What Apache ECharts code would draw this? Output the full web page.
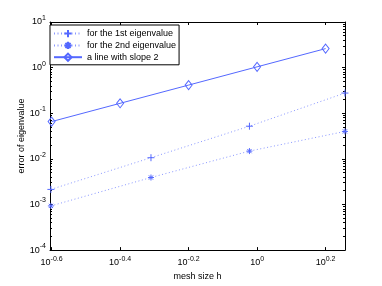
<!DOCTYPE html>
<html><head><meta charset="utf-8">
<script src="https://cdn.jsdelivr.net/npm/echarts@6/dist/echarts.min.js"></script>
<style>html,body{margin:0;padding:0;background:#fff}#c{width:382px;height:286px}</style>
</head><body><div id="c"></div>
<script>
// ---- data ----
const meshSize1 = [0.25, 0.49, 0.95, 1.805];
const err1 = [0.00214, 0.0106, 0.052, 0.277];
const meshSize2 = [0.25, 0.49, 0.95, 1.805];
const err2 = [0.00093, 0.0039, 0.0148, 0.0399];
const meshSizeRef = [0.2512, 0.3981, 0.6310, 1.0, 1.585];
const errRef = [0.0656, 0.165, 0.414, 1.04, 2.61];
const seriesNames = ['for the 1st eigenvalue', 'for the 2nd eigenvalue', 'a line with slope 2'];
const xTickExponents = ['-0.6', '-0.4', '-0.2', '0', '0.2'];
const yTickExponents = ['-4', '-3', '-2', '-1', '0', '1'];
const xName = 'mesh size h';
const yName = 'error of eigenvalue';
const xMin = 0.2485, xMax = 1.806, yMin = 1e-4, yMax = 10;

const FONT = 'Liberation Sans, Arial, Helvetica, sans-serif';
const BLUE = '#5468ff';
const DOT = '#8a98ff';

function pairs(xs, ys) { return xs.map((x, i) => [x, ys[i]]); }
function findLabel(list, e, tol) {
  for (const s of list) if (Math.abs(parseFloat(s) - e) < tol) return s;
  return null;
}
const rich = {
  b: { fontSize: 9, fontFamily: FONT, color: '#000', lineHeight: 15, verticalAlign: 'middle' },
  s: { fontSize: 7, fontFamily: FONT, color: '#000', lineHeight: 6, verticalAlign: 'top' }
};
const axisLine = { show: true, onZero: false, lineStyle: { color: '#000', width: 1 } };
const majorTick = { show: true, inside: true, length: 3, lineStyle: { color: '#000' } };
const minorTick = { show: true, splitNumber: 9, length: 2, lineStyle: { color: '#000' } };

const chart = echarts.init(document.getElementById('c'), null, { renderer: 'canvas' });
chart.setOption({
  animation: false,
  backgroundColor: '#fff',
  grid: { left: 50, right: 37, top: 22, bottom: 32, containLabel: false },
  legend: {
    orient: 'vertical', left: 50, top: 25,
    itemWidth: 28, itemHeight: 9, itemGap: 2.6,
    padding: [4, 3, 3, 3],
    borderColor: '#000', borderWidth: 1, backgroundColor: '#fff',
    textStyle: { fontSize: 9, fontFamily: FONT, color: '#000' },
    data: seriesNames
  },
  xAxis: [
    {
      type: 'log', logBase: Math.pow(10, 0.2), min: xMin, max: xMax,
      position: 'bottom',
      name: xName, nameLocation: 'middle', nameGap: 16,
      nameTextStyle: { fontSize: 9, fontFamily: FONT, color: '#000' },
      axisLine: axisLine,
      axisTick: majorTick,
      axisLabel: {
        margin: 5,
        formatter: function (v) {
          const s = findLabel(xTickExponents, Math.log10(v), 0.002);
          return s === null ? '' : '{b|10}{s|' + s + '}';
        },
        rich: rich
      },
      splitLine: { show: false }, minorTick: { show: false }
    },
    {
      type: 'log', logBase: Math.pow(10, 0.2), min: xMin, max: xMax,
      position: 'top',
      axisLine: axisLine,
      axisTick: majorTick,
      axisLabel: { show: false }, splitLine: { show: false }, minorTick: { show: false }
    }
  ],
  yAxis: [
    {
      type: 'log', logBase: 10, min: yMin, max: yMax, position: 'left',
      name: yName, nameLocation: 'middle', nameGap: 24, nameMoveOverlap: false,
      nameTextStyle: { fontSize: 9, fontFamily: FONT, color: '#000' },
      axisLine: axisLine,
      axisTick: majorTick,
      minorTick: minorTick,
      axisLabel: {
        margin: 4,
        formatter: function (v) {
          const s = findLabel(yTickExponents, Math.log10(v), 0.01);
          return s === null ? '' : '{b|10}{s|' + s + '}';
        },
        rich: rich
      },
      splitLine: { show: false }, minorSplitLine: { show: false }
    },
    {
      type: 'log', logBase: 10, min: yMin, max: yMax, position: 'right',
      axisLine: axisLine,
      axisTick: majorTick,
      minorTick: minorTick,
      axisLabel: { show: false }, splitLine: { show: false }, minorSplitLine: { show: false }
    }
  ],
  series: [
    {
      name: seriesNames[0], type: 'line', xAxisIndex: 0, yAxisIndex: 0,
      data: pairs(meshSize1, err1), clip: false,
      symbol: 'path://M5 0L5 10M0 5L10 5', symbolSize: 7, symbolKeepAspect: true,
      itemStyle: { color: 'rgba(255,255,255,0)', borderColor: BLUE, borderWidth: 1 },
      lineStyle: { color: DOT, width: 1, type: [1, 2.5] }
    },
    {
      name: seriesNames[1], type: 'line', xAxisIndex: 0, yAxisIndex: 0,
      data: pairs(meshSize2, err2), clip: false,
      symbol: 'path://M5 0L5 10M0 5L10 5M1.5 1.5L8.5 8.5M8.5 1.5L1.5 8.5', symbolSize: 6, symbolKeepAspect: true,
      itemStyle: { color: 'rgba(255,255,255,0)', borderColor: BLUE, borderWidth: 1 },
      lineStyle: { color: DOT, width: 1, type: [1, 2.5] }
    },
    {
      name: seriesNames[2], type: 'line', xAxisIndex: 0, yAxisIndex: 0,
      data: pairs(meshSizeRef, errRef), clip: false,
      symbol: 'diamond', symbolSize: [7, 9],
      itemStyle: { color: 'rgba(255,255,255,0)', borderColor: BLUE, borderWidth: 1 },
      lineStyle: { color: BLUE, width: 1, type: 'solid' }
    }
  ]
});
</script>
</body></html>
